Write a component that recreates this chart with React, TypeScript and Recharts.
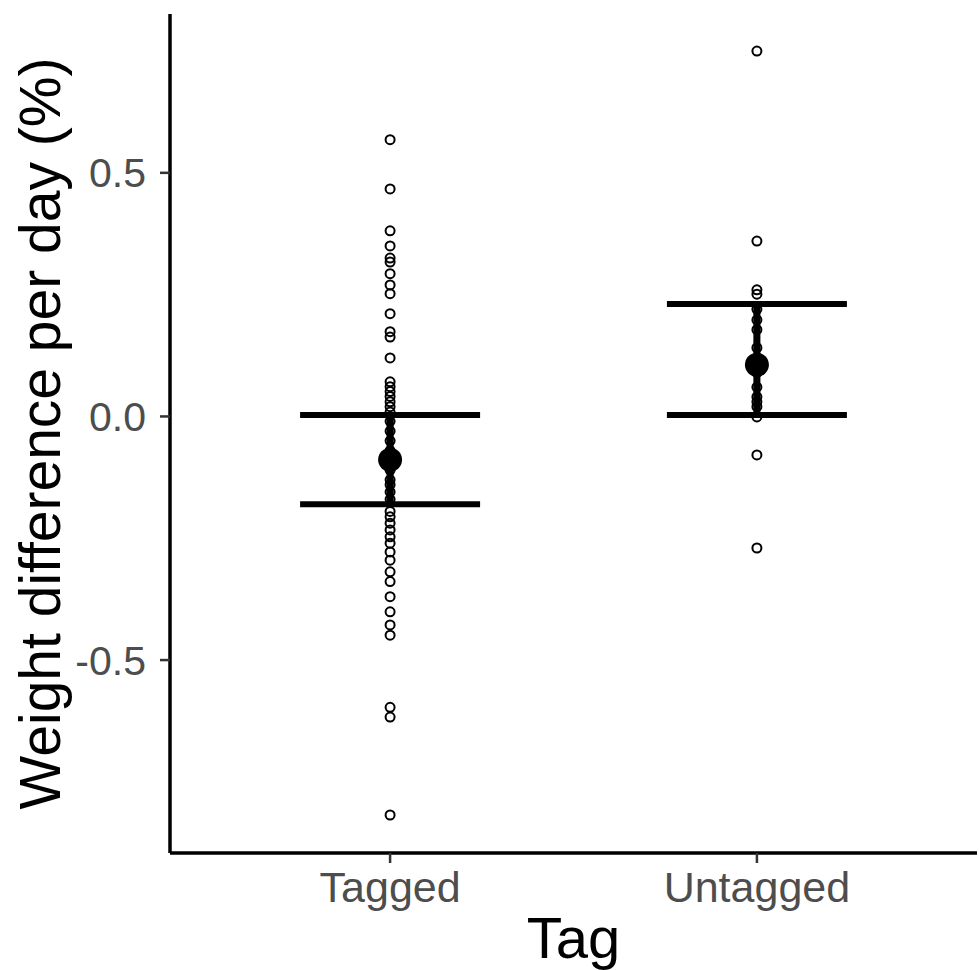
import React from 'react';
import { ScatterChart, Scatter, XAxis, YAxis, ErrorBar, Label } from 'recharts';

const categories = ['Tagged', 'Untagged'];
const categoryPositions = [1, 2];

const taggedValues = [
  0.568, 0.467, 0.381, 0.35, 0.325, 0.317, 0.293, 0.27, 0.252, 0.211, 0.174, 0.163, 0.12,
  0.071, 0.061, 0.051, 0.041, 0.03, 0.02, 0.009,
  -0.01, -0.03, -0.05, -0.07, -0.09, -0.11, -0.13, -0.14, -0.155, -0.17,
  -0.195, -0.206, -0.219, -0.233, -0.247, -0.26, -0.278, -0.295, -0.319, -0.339, -0.37,
  -0.401, -0.428, -0.449, -0.597, -0.617, -0.818,
];

const untaggedValues = [
  0.75, 0.36, 0.26, 0.251, 0.22, 0.198, 0.178, 0.141, 0.12, 0.09, 0.06, 0.04, 0.03, 0.02,
  -0.001, -0.079, -0.27,
];

const means = [-0.089, 0.106];
const lowers = [-0.18, 0.003];
const uppers = [0.003, 0.231];

const yTicks = [-0.5, 0, 0.5];
const yDomain = [-0.896, 0.826];
const xDomain = [0.4, 2.6];

const font = '"Liberation Sans", Arial, Helvetica, sans-serif';

const pointData = [
  ...taggedValues.map((v) => ({ x: categoryPositions[0], y: v })),
  ...untaggedValues.map((v) => ({ x: categoryPositions[1], y: v })),
];

const summaryData = means.map((m, i) => ({
  x: categoryPositions[i],
  y: m,
  err: [m - lowers[i], uppers[i] - m],
}));

const rangeData = categoryPositions.map((x, i) => [
  { x, y: lowers[i] },
  { x, y: uppers[i] },
]);

const OpenCircle = (props: any) => (
  <circle cx={props.cx} cy={props.cy} r={4.5} fill="none" stroke="#000" strokeWidth={2} />
);

const NoShape = () => <g />;

const MeanDot = (props: any) => <circle cx={props.cx} cy={props.cy} r={12} fill="#000" />;

export default function App() {
  return (
    <div style={{ position: 'absolute', left: 0, top: 0, background: '#fff' }}>
      <ScatterChart
        width={979}
        height={970}
        margin={{ top: 14, right: 2, left: 0, bottom: 0 }}
      >
        <XAxis
          type="number"
          dataKey="x"
          domain={xDomain}
          ticks={categoryPositions}
          tickFormatter={(v: number) => categories[categoryPositions.indexOf(v)] ?? ''}
          allowDataOverflow
          height={117}
          tickSize={10}
          tickMargin={8}
          axisLine={{ stroke: '#000', strokeWidth: 3.5 }}
          tickLine={{ stroke: '#333', strokeWidth: 2.5 }}
          tick={{ fill: '#4d4d4d', fontSize: 43, fontFamily: font }}
        >
          <Label
            value="Tag"
            position="insideBottom"
            offset={12}
            style={{ fill: '#000', fontSize: 58, fontFamily: font }}
          />
        </XAxis>
        <YAxis
          type="number"
          dataKey="y"
          domain={yDomain}
          ticks={yTicks}
          tickFormatter={(v: number) => v.toFixed(1)}
          allowDataOverflow
          width={170}
          tickSize={10}
          tickMargin={14}
          axisLine={{ stroke: '#000', strokeWidth: 3.5 }}
          tickLine={{ stroke: '#333', strokeWidth: 2.5 }}
          tick={{ fill: '#4d4d4d', fontSize: 41, fontFamily: font }}
        >
          <Label
            value="Weight difference per day (%)"
            angle={-90}
            position="insideLeft"
            offset={40}
            style={{ fill: '#000', fontSize: 57, fontFamily: font, textAnchor: 'middle' }}
          />
        </YAxis>
        <Scatter data={pointData} shape={OpenCircle} isAnimationActive={false} />
        {rangeData.map((d, i) => (
          <Scatter
            key={categories[i]}
            data={d}
            shape={NoShape}
            line={{ stroke: '#000', strokeWidth: 7 }}
            lineType="joint"
            isAnimationActive={false}
          />
        ))}
        <Scatter data={summaryData} shape={MeanDot} isAnimationActive={false}>
          <ErrorBar
            dataKey="err"
            direction="y"
            width={90}
            stroke="#000"
            strokeWidth={6}
            isAnimationActive={false}
          />
        </Scatter>
      </ScatterChart>
    </div>
  );
}
